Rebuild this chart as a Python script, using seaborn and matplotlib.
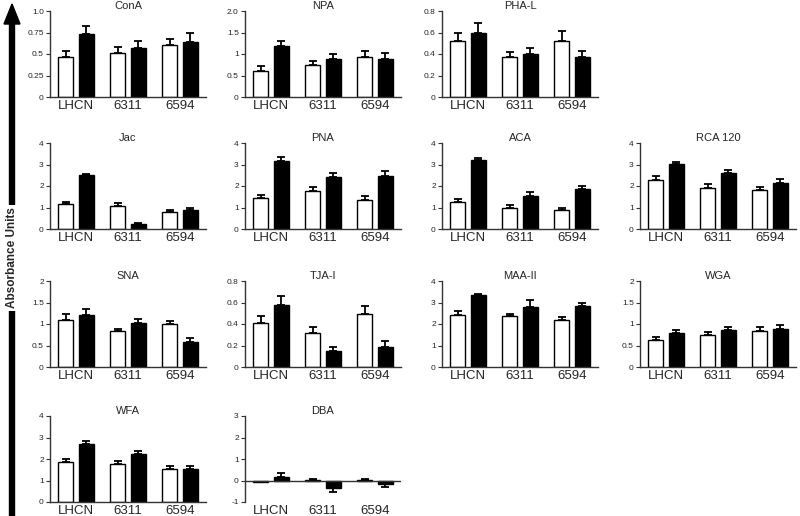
import numpy as np
import pandas as pd
import matplotlib
matplotlib.use('Agg')
import matplotlib.pyplot as plt
from matplotlib.patches import FancyArrow
import seaborn as sns

# cell lines on the x axis
cells = ['LHCN', '6311', '6594']

# lectin panels
lectins = ['ConA', 'NPA', 'PHA-L', 'Jac', 'PNA', 'ACA', 'RCA 120',
           'SNA', 'TJA-I', 'MAA-II', 'WGA', 'WFA', 'DBA']

# open (white) bars: means and SEM
open_mean = {
    'ConA': [0.47, 0.51, 0.60], 'NPA': [0.60, 0.74, 0.93], 'PHA-L': [0.52, 0.37, 0.52],
    'Jac': [1.17, 1.07, 0.80], 'PNA': [1.42, 1.75, 1.37], 'ACA': [1.27, 1.00, 0.88],
    'RCA 120': [2.30, 1.92, 1.80], 'SNA': [1.10, 0.83, 1.00], 'TJA-I': [0.41, 0.32, 0.49],
    'MAA-II': [2.42, 2.35, 2.20], 'WGA': [0.63, 0.74, 0.83], 'WFA': [1.85, 1.75, 1.53],
    'DBA': [-0.05, 0.04, 0.04],
}
open_sem = {
    'ConA': [0.06, 0.07, 0.08], 'NPA': [0.12, 0.09, 0.13], 'PHA-L': [0.08, 0.05, 0.09],
    'Jac': [0.10, 0.12, 0.07], 'PNA': [0.18, 0.20, 0.17], 'ACA': [0.12, 0.10, 0.08],
    'RCA 120': [0.15, 0.15, 0.15], 'SNA': [0.13, 0.06, 0.06], 'TJA-I': [0.06, 0.05, 0.08],
    'MAA-II': [0.17, 0.10, 0.12], 'WGA': [0.06, 0.08, 0.09], 'WFA': [0.17, 0.15, 0.15],
    'DBA': [0.03, 0.04, 0.03],
}
# filled (black) bars: means and SEM
filled_mean = {
    'ConA': [0.73, 0.57, 0.64], 'NPA': [1.18, 0.88, 0.89], 'PHA-L': [0.60, 0.40, 0.37],
    'Jac': [2.50, 0.25, 0.90], 'PNA': [3.15, 2.40, 2.48], 'ACA': [3.22, 1.55, 1.88],
    'RCA 120': [3.03, 2.60, 2.15], 'SNA': [1.22, 1.02, 0.59], 'TJA-I': [0.58, 0.15, 0.19],
    'MAA-II': [3.35, 2.80, 2.85], 'WGA': [0.79, 0.86, 0.88], 'WFA': [2.70, 2.22, 1.52],
    'DBA': [0.18, -0.35, -0.18],
}
filled_sem = {
    'ConA': [0.09, 0.08, 0.10], 'NPA': [0.13, 0.13, 0.13], 'PHA-L': [0.09, 0.06, 0.06],
    'Jac': [0.07, 0.05, 0.06], 'PNA': [0.22, 0.22, 0.22], 'ACA': [0.10, 0.17, 0.10],
    'RCA 120': [0.08, 0.14, 0.18], 'SNA': [0.14, 0.09, 0.08], 'TJA-I': [0.08, 0.04, 0.05],
    'MAA-II': [0.05, 0.32, 0.12], 'WGA': [0.06, 0.08, 0.09], 'WFA': [0.15, 0.15, 0.17],
    'DBA': [0.15, 0.18, 0.10],
}

# y tick labels per panel
ytick_labels = {
    'ConA': ['0', '0.25', '0.5', '0.75', '1.0'],
    'NPA': ['0', '0.5', '1', '1.5', '2.0'],
    'PHA-L': ['0', '0.2', '0.4', '0.6', '0.8'],
    'Jac': ['0', '1', '2', '3', '4'], 'PNA': ['0', '1', '2', '3', '4'],
    'ACA': ['0', '1', '2', '3', '4'], 'RCA 120': ['0', '1', '2', '3', '4'],
    'SNA': ['0', '0.5', '1', '1.5', '2'],
    'TJA-I': ['0', '0.2', '0.4', '0.6', '0.8'],
    'MAA-II': ['0', '1', '2', '3', '4'],
    'WGA': ['0', '0.5', '1', '1.5', '2'],
    'WFA': ['0', '1', '2', '3', '4'],
    'DBA': ['-1', '0', '1', '2', '3'],
}

# layout in pixels
W, H = 800, 516
grid = [(0, 0), (0, 1), (0, 2), (1, 0), (1, 1), (1, 2), (1, 3),
        (2, 0), (2, 1), (2, 2), (2, 3), (3, 0), (3, 1)]
col_left = [50, 245, 442, 640]
row_top = [11, 143, 281, 416]
aw, ah = 156, 86
spine_col = '#333333'

sns.set_style('ticks')
plt.rcParams['font.family'] = ['Liberation Sans', 'DejaVu Sans']

fig = plt.figure(figsize=(W / 100, H / 100), dpi=100)

for name, (r, c) in zip(lectins, grid):
    left, top = col_left[c], row_top[r]
    ax = fig.add_axes([left / W, 1 - (top + ah) / H, aw / W, ah / H])
    df = pd.DataFrame({
        'cell': cells * 2,
        'group': ['open'] * 3 + ['filled'] * 3,
        'value': open_mean[name] + filled_mean[name],
    })
    sns.barplot(data=df, x='cell', y='value', hue='group', hue_order=['open', 'filled'],
                palette={'open': 'white', 'filled': 'black'}, edgecolor='black',
                linewidth=1, width=0.8, gap=0.25, errorbar=None, legend=False, ax=ax)
    errs = open_sem[name] + filled_sem[name]
    for p, e in zip(ax.patches, errs):
        x = p.get_x() + p.get_width() / 2
        v = p.get_y() + p.get_height()
        yerr = [[0], [e]] if v >= 0 else [[e], [0]]
        ax.errorbar(x, v, yerr=yerr, fmt='none', ecolor='black', elinewidth=1.3,
                    capsize=3, capthick=1.3, zorder=3)

    labels = ytick_labels[name]
    yt = [float(t) for t in labels]
    ax.set_ylim(yt[0], yt[-1])
    ax.set_yticks(yt)
    ax.set_yticklabels(labels)
    ax.set_xlim(-0.5, 2.5)
    ax.set_xlabel('')
    ax.set_ylabel('')
    sns.despine(ax=ax)
    for s in ['left', 'bottom']:
        ax.spines[s].set_color(spine_col)
        ax.spines[s].set_linewidth(1)
    ax.tick_params(axis='x', length=0, labelsize=9.5, pad=2)
    ax.tick_params(axis='y', length=3, width=0.8, color=spine_col, labelsize=6, pad=1.5)
    ax.set_title(name, fontsize=8, pad=1)
    if yt[0] < 0:
        ax.spines['bottom'].set_visible(False)
        ax.axhline(0, color=spine_col, lw=1, zorder=4)

# big arrow with the shared y label
ov = fig.add_axes([0, 0, 1, 1])
ov.set_xlim(0, W)
ov.set_ylim(H, 0)
ov.axis('off')
ov.add_patch(FancyArrow(12, H, 0, -(H - 4), width=5, head_width=16, head_length=20,
                        length_includes_head=True, color='black'))
ov.text(12, 258, 'Absorbance Units', rotation=90, ha='center', va='center',
        fontsize=8.5, fontweight='bold',
        bbox=dict(facecolor='white', edgecolor='none', pad=2))

fig.savefig('out.png', dpi=100)
